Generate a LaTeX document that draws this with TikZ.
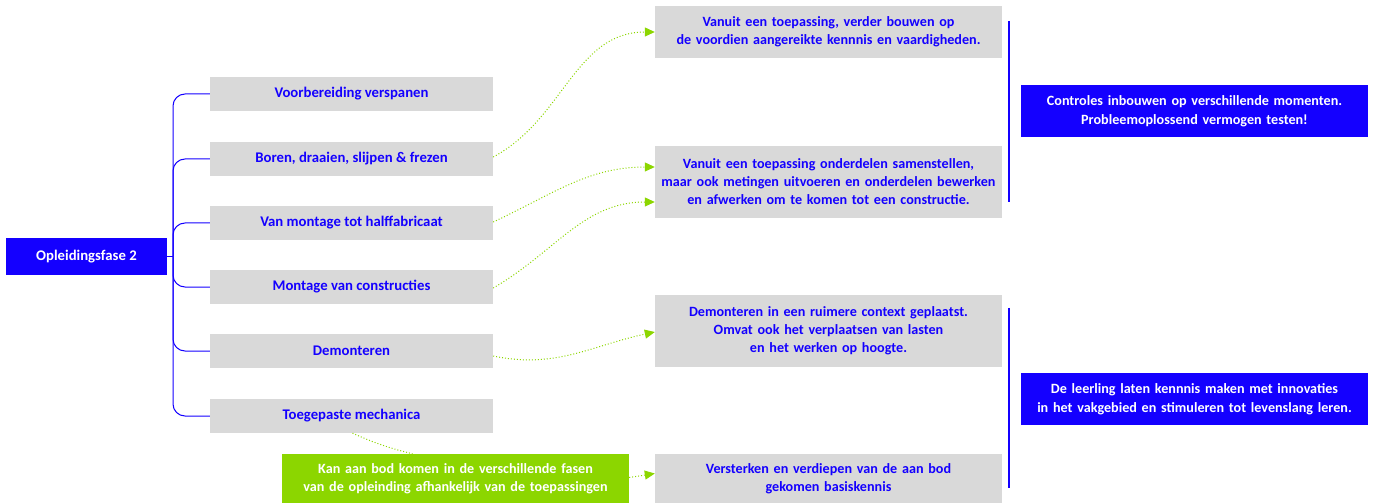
\documentclass[tikz,border=0pt]{standalone}
\usepackage{fontspec}
\setmainfont{Carlito}
\usepackage{tikz}
\usetikzlibrary{arrows.meta}
\definecolor{fase}{RGB}{20,0,255}
\definecolor{grijs}{RGB}{217,217,217}
\definecolor{groen}{RGB}{140,214,0}
\tikzstyle{everynode}=[inner sep=0pt,align=center,font=\bfseries\fontsize{14.2}{18}\selectfont]
\tikzstyle{root}=[fill=fase,text=white,minimum width=161bp,minimum height=37bp,font=\bfseries\fontsize{14.8}{18}\selectfont]
\tikzstyle{topic}=[fill=grijs,text=fase,minimum width=283bp,minimum height=34bp,font=\bfseries\fontsize{14.8}{18}\selectfont]
\tikzstyle{detail}=[fill=grijs,text=fase,text width=347bp]
\tikzstyle{note}=[fill=groen,text=white,text width=347bp,minimum height=49bp]
\tikzstyle{summary}=[fill=fase,text=white,text width=347bp,minimum height=52bp,font=\bfseries\fontsize{14.2}{19}\selectfont]
\tikzstyle{branch}=[draw=fase,line width=1bp,rounded corners=12bp]
\tikzstyle{bar}=[draw=fase,line width=2bp]
\tikzstyle{link}=[draw=groen,dotted,line width=1bp,-{Triangle[length=10bp,width=9bp]}]

\begin{document}
\begin{tikzpicture}[x=1bp,y=-1bp,every node/.style={everynode}]
    \useasboundingbox (0,0) rectangle (1375,503);
    \node[root] (root) at (86.5,256.5) {Opleidingsfase 2};
    \foreach \name/\y/\txt in {b1/94/Voorbereiding verspanen,
        b2/159/{Boren, draaien, slijpen \& frezen},
        b3/223/Van montage tot halffabricaat,
        b4/287/Montage van constructies,
        b5/351/Demonteren,
        b6/416/Toegepaste mechanica}
    \node[topic] (\name) at (351.5,\y) {\txt};
    \coordinate (hub) at (173,256.5);
    \draw[branch] (root.east) -- (hub);
    \foreach \name in {b1,b2,b3,b4,b5,b6}
    \draw[branch] (hub) |- (\name.west);

    \node[detail,minimum height=52bp] (r1) at (828.5,32)
    {Vanuit een toepassing, verder bouwen op\\de voordien aangereikte kennnis en vaardigheden.};
    \node[detail,minimum height=72bp] (r2) at (828.5,182)
    {Vanuit een toepassing onderdelen samenstellen,\\maar ook metingen uitvoeren en onderdelen bewerken\\en afwerken om te komen tot een constructie.};
    \node[detail,minimum height=72bp] (r3) at (828.5,331)
    {Demonteren in een ruimere context geplaatst.\\Omvat ook het verplaatsen van lasten\\en het werken op hoogte.};
    \node[detail,minimum height=49bp] (r4) at (828.5,478.5)
    {Versterken en verdiepen van de aan bod\\gekomen basiskennis};
    \node[note] (extra) at (455.5,478.5)
    {Kan aan bod komen in de verschillende fasen\\van de opleinding afhankelijk van de toepassingen};

    \node[summary] (s1) at (1194.5,111)
    {Controles inbouwen op verschillende momenten.\\Probleemoplossend vermogen testen!};
    \node[summary] (s2) at (1194.5,399)
    {De leerling laten kennnis maken met innovaties\\in het vakgebied en stimuleren tot levenslang leren.};
    \draw[bar] ([xshift=7bp,yshift=-15bp]r1.north east) -- ([xshift=7bp,yshift=16bp]r2.south east);
    \draw[bar] ([xshift=7bp,yshift=-13bp]r3.north east) -- ([xshift=7bp,yshift=15bp]r4.south east);

    % curved links between the columns
    \draw[link] ([yshift=2bp]b2.east) to[out=28,in=180] (r1.west);
    \draw[link] ([yshift=1bp]b3.east) to[out=25,in=180] ([yshift=15bp]r2.west);
    \draw[link] ([yshift=-1bp]b4.east) to[out=30,in=180] ([yshift=-20bp]r2.west);
    \draw[link] ([yshift=-5bp]b5.east) to[out=-12,in=192] ([yshift=-1bp]r3.west);
    \draw[link,-] ([xshift=1bp]b6.south) to[bend right=5] ([xshift=-43bp]extra.north);
    \draw[link] ([yshift=1bp]extra.east) -- ([yshift=5bp]r4.west);
\end{tikzpicture}
\end{document}
